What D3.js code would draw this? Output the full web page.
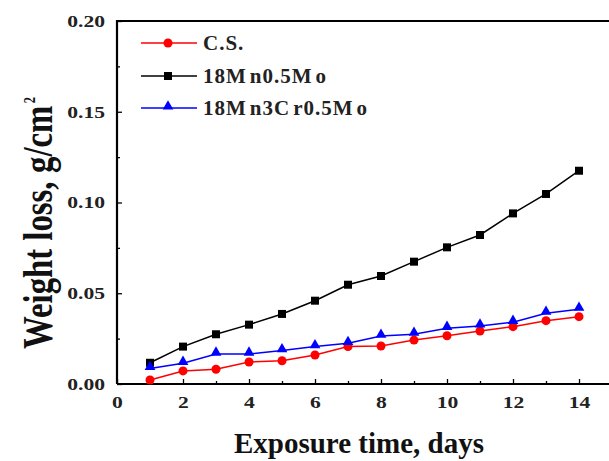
<!DOCTYPE html>
<meta charset="utf-8">
<title>Weight loss</title>
<style>
  body { margin: 0; background: #fff; }
</style>
<svg id="chart" width="609" height="461" font-family="'Liberation Serif', 'Times New Roman', Times, 'DejaVu Serif', serif" font-weight="bold"></svg>
<script src="https://cdn.jsdelivr.net/npm/d3@7"></script>
<script>
// data
var days = [1, 2, 3, 4, 5, 6, 7, 8, 9, 10, 11, 12, 13, 14];
var cs = [0.0022, 0.0072, 0.0081, 0.0121, 0.0128, 0.0160, 0.0206, 0.0209, 0.0242, 0.0266, 0.0292, 0.0316, 0.0349, 0.0371];
var mn05mo = [0.0117, 0.0206, 0.0274, 0.0327, 0.0386, 0.0459, 0.0547, 0.0595, 0.0674, 0.0753, 0.0821, 0.0940, 0.1047, 0.1175];
var mn3cr05mo = [0.0086, 0.0114, 0.0165, 0.0165, 0.0184, 0.0206, 0.0224, 0.0264, 0.0274, 0.0307, 0.0320, 0.0340, 0.0390, 0.0412];
var seriesNames = ["C.S.", "18Mn0.5Mo", "18Mn3Cr0.5Mo"];
var seriesColors = ["#ff0000", "#000000", "#0000ff"];
var seriesShapes = [d3.symbolCircle, d3.symbolSquare, d3.symbolTriangle];
var xTicks = [0, 2, 4, 6, 8, 10, 12, 14];
var yTicks = [0, 0.05, 0.10, 0.15, 0.20];

var svg = d3.select("#chart");
var serif = svg.attr("font-family");
var x = d3.scaleLinear().domain([0, 15]).range([117, 612]);
var y = d3.scaleLinear().domain([0, 0.2]).range([384, 21]);

// minor ticks
var gx = svg.append("g").attr("transform", "translate(0," + y(0) + ")");
gx.call(d3.axisBottom(x).tickValues(d3.range(1, 15, 2)).tickSize(-3).tickFormat(""));
gx.select(".domain").remove();
var gx2 = svg.append("g").attr("transform", "translate(0," + y(0) + ")");
gx2.call(d3.axisBottom(x).tickValues(xTicks).tickSize(-5).tickPadding(12).tickFormat(d3.format("d")));
gx2.select(".domain").remove();

var gy = svg.append("g").attr("transform", "translate(" + x(0) + ",0)");
gy.call(d3.axisLeft(y).tickValues([0.025, 0.075, 0.125, 0.175]).tickSize(-3).tickFormat(""));
gy.select(".domain").remove();
var gy2 = svg.append("g").attr("transform", "translate(" + x(0) + ",0)");
gy2.call(d3.axisLeft(y).tickValues(yTicks).tickSize(-5).tickPadding(12).tickFormat(d3.format(".2f")));
gy2.select(".domain").remove();

svg.selectAll("g").attr("font-family", serif).attr("font-size", 17);
svg.selectAll(".tick line").attr("stroke", "#000").attr("stroke-width", 1.3);
// the original tick numbers are drawn a bit wide
svg.selectAll(".tick text").attr("fill", "#222").each(function() {
  var len = this.getComputedTextLength();
  if (len > 0) d3.select(this).attr("textLength", len * 1.27).attr("lengthAdjust", "spacingAndGlyphs");
});

// frame
svg.append("path")
  .attr("d", "M" + x(0) + "," + y(0) + "H609M" + x(0) + "," + y(0) + "V" + y(0.2) + "H609")
  .attr("fill", "none").attr("stroke", "#000").attr("stroke-width", 2.2);

var all = [cs, mn05mo, mn3cr05mo];
var line = d3.line().x((d, i) => x(days[i])).y(d => y(d));
var sizes = [64, 64, 50];
all.forEach(function(vals, k) {
  svg.append("path").attr("d", line(vals))
    .attr("fill", "none").attr("stroke", seriesColors[k]).attr("stroke-width", 1.5);
  svg.selectAll(null).data(vals).enter().append("path")
    .attr("transform", (d, i) => "translate(" + x(days[i]) + "," + (y(d) - (k == 2 ? 1.5 : 0)) + ")")
    .attr("d", d3.symbol().type(seriesShapes[k]).size(sizes[k]))
    .attr("fill", seriesColors[k]);
});

// legend
var legY = [43, 76, 108];
var legParts = [["C.S."], ["18M", "n0.5M", "o"], ["18M", "n3C", "r0.5M", "o"]];
seriesNames.forEach(function(name, k) {
  var g = svg.append("g").attr("transform", "translate(0," + legY[k] + ")");
  g.append("line").attr("x1", 141).attr("x2", 197).attr("stroke", seriesColors[k]).attr("stroke-width", 1.5);
  g.append("path").attr("transform", "translate(168," + (k == 2 ? -1.5 : 0) + ")")
    .attr("d", d3.symbol().type(seriesShapes[k]).size(sizes[k])).attr("fill", seriesColors[k]);
  var t = g.append("text").attr("x", 203).attr("y", 7).attr("font-size", 21)
    .attr("letter-spacing", 1).attr("fill", "#222");
  legParts[k].forEach(function(p, j) {
    t.append("tspan").attr("dx", j ? 3 : 0).text(p);
  });
});

// axis titles
svg.append("text").attr("x", 359).attr("y", 453).attr("text-anchor", "middle")
  .attr("font-size", 29).attr("fill", "#111").text("Exposure time, days");
var yt = svg.append("text").attr("transform", "translate(52,223) rotate(-90) scale(0.78,1)")
  .attr("text-anchor", "middle").attr("font-size", 42).attr("fill", "#111");
yt.append("tspan").text("Weight loss,");
yt.append("tspan").attr("dx", 11).text("g/cm");
yt.append("tspan").attr("font-size", 16).attr("dy", -17).attr("dx", 3).text("2");
</script>
